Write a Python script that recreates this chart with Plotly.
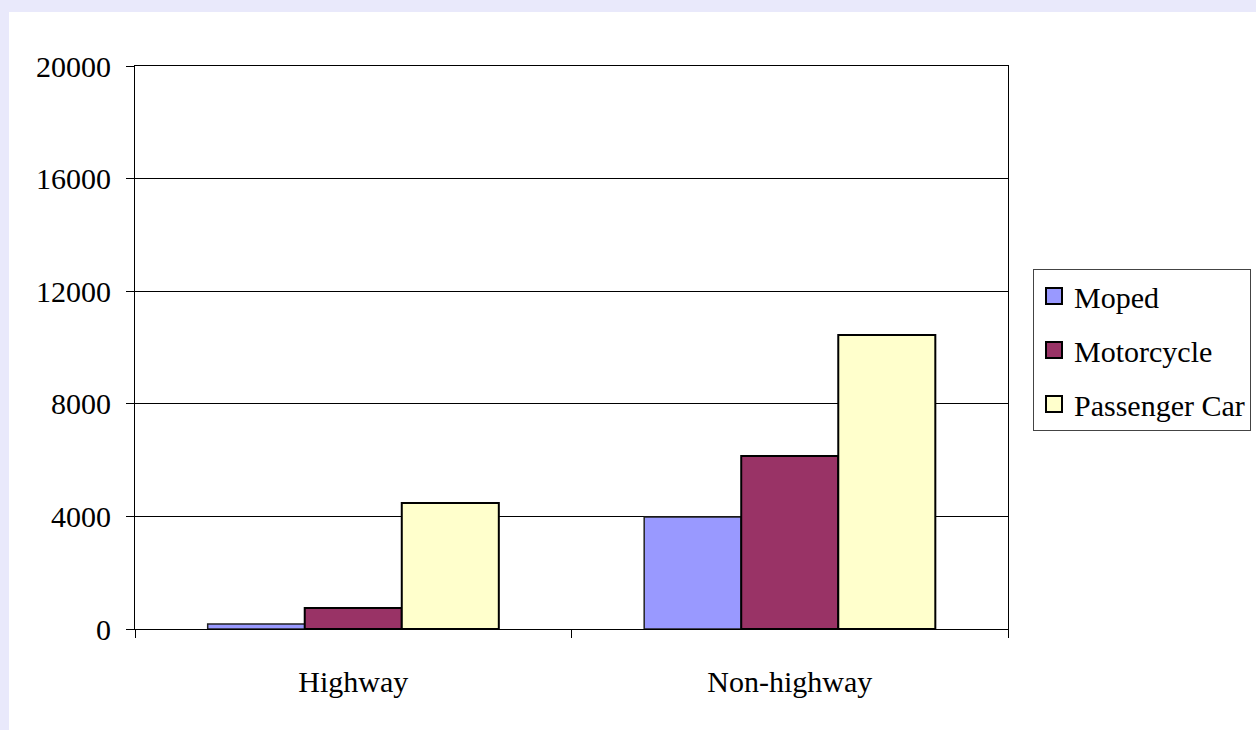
import plotly.graph_objects as go

# Data
categories = ["Highway", "Non-highway"]
moped = [180, 3980]
motorcycle = [750, 6150]
passenger_car = [4480, 10440]
y_ticks = [0, 4000, 8000, 12000, 16000, 20000]

series = [
    ("Moped", moped, "#9999FF", "#222222", 1.5),
    ("Motorcycle", motorcycle, "#993366", "#000000", 2),
    ("Passenger Car", passenger_car, "#FFFFCC", "#000000", 2),
]

W, H = 1256, 730
ML, MR, MT, MB = 135, 248, 66, 101
PW, PH = W - ML - MR, H - MT - MB


def px_x(p):
    return (p - ML) / PW


def px_y(p):
    return (H - MB - p) / PH


FONT = "Liberation Serif"

fig = go.Figure()
for i, (name, vals, fill, edge, lw) in enumerate(series):
    fig.add_trace(go.Bar(
        name=name, x=categories, y=vals,
        marker=dict(color=fill, line=dict(color=edge, width=lw)),
        legendgroup=f"g{i}", showlegend=False,
    ))
    # legend key: larger outlined square swatch
    fig.add_trace(go.Scatter(
        name=name, x=[None], y=[None], mode="markers",
        marker=dict(symbol="square", size=16, color=fill,
                    line=dict(color="black", width=2)),
        legendgroup=f"g{i}", showlegend=True, hoverinfo="skip",
    ))

# white chart panel inset on the lavender page
fig.add_shape(type="rect", xref="paper", yref="paper",
              x0=px_x(9), x1=px_x(W + 5), y0=px_y(H + 5), y1=px_y(12),
              fillcolor="white", line=dict(width=0), layer="below")

fig.update_layout(
    width=W, height=H,
    margin=dict(l=ML, r=MR, t=MT, b=MB, pad=0, autoexpand=False),
    paper_bgcolor="#E9E9FB",
    plot_bgcolor="white",
    barmode="group", bargap=0.333, bargroupgap=0,
    font=dict(family=FONT, size=30, color="black"),
    showlegend=True,
    legend=dict(
        x=px_x(1033), y=px_y(269), xanchor="left", yanchor="top",
        bgcolor="white", bordercolor="#444444", borderwidth=1,
        font=dict(family=FONT, size=30, color="black"),
        traceorder="grouped", tracegroupgap=12,
        itemwidth=30,
    ),
    xaxis=dict(
        type="category", tickson="boundaries",
        ticks="outside", ticklen=8, tickcolor="black", tickwidth=1,
        showgrid=False, showline=True, linecolor="black", linewidth=1,
        mirror=True, ticklabelstandoff=26,
        tickfont=dict(family=FONT, size=30, color="black"),
    ),
    yaxis=dict(
        range=[0, 20000], tickvals=y_ticks, ticktext=[str(v) for v in y_ticks],
        ticks="outside", ticklen=8, tickcolor="black", tickwidth=1,
        showgrid=True, gridcolor="black", gridwidth=1,
        showline=True, linecolor="black", linewidth=1, mirror=True,
        zeroline=False, ticklabelstandoff=9,
        tickfont=dict(family=FONT, size=30, color="black"),
    ),
)

fig.write_html("out.html")
